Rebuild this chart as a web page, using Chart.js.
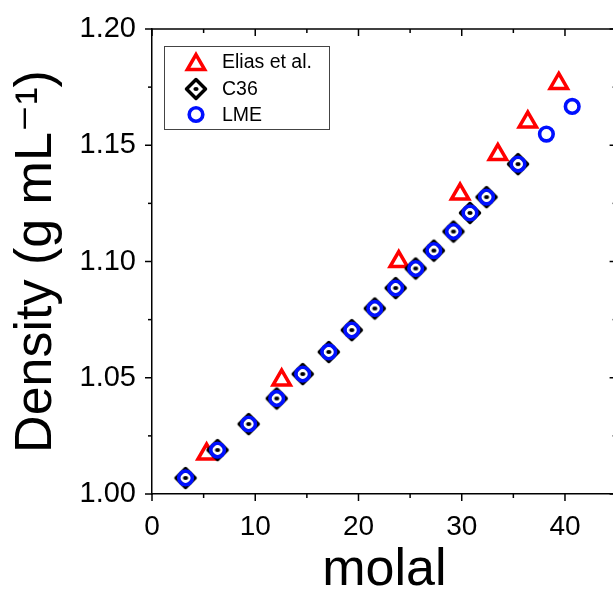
<!DOCTYPE html>
<html>
<head>
<meta charset="utf-8">
<script src="https://cdn.jsdelivr.net/npm/chart.js@4/dist/chart.umd.min.js"></script>
<style>
html,body{margin:0;padding:0;background:#fff;overflow:hidden;}
#wrap{position:absolute;left:0;top:0;width:620px;height:597px;}
#c{display:block;width:620px;height:597px;}
</style>
</head>
<body>
<div id="wrap"><canvas id="c" width="620" height="597"></canvas></div>
<script>
// ---- data ----
const eliasX = [5.29, 12.56, 23.9, 29.84, 33.5, 36.4, 39.4];
const eliasY = [1.0172, 1.049, 1.100, 1.129, 1.146, 1.160, 1.1766];

const c36X = [3.25, 6.35, 9.36, 12.08, 14.6, 17.12, 19.35, 21.58, 23.6, 25.54, 27.3, 29.2, 30.8, 32.4, 35.45];
const c36Y = [1.0069, 1.0189, 1.0301, 1.0411, 1.0516, 1.0611, 1.0705, 1.0798, 1.0886, 1.0970, 1.1047, 1.1129, 1.1209, 1.1277, 1.1419];

const lmeX = [3.25, 6.35, 9.36, 12.08, 14.6, 17.12, 19.35, 21.58, 23.6, 25.54, 27.3, 29.2, 30.8, 32.4, 35.45, 38.2, 40.7];
const lmeY = [1.0069, 1.0189, 1.0301, 1.0411, 1.0516, 1.0611, 1.0705, 1.0798, 1.0886, 1.0970, 1.1047, 1.1129, 1.1209, 1.1277, 1.1419, 1.1548, 1.1667];

const seriesNames = ['Elias et al.', 'C36', 'LME'];
const xTitle = 'molal';
const yTitle = 'Density (g mL\u207B\u00B9)';
const xMin = 0, xMax = 45, xStep = 5, xLabelEvery = 10;
const yMin = 1.00, yMax = 1.20, yStep = 0.025;

const FONT = "'Liberation Sans', Arial, 'DejaVu Sans', sans-serif";

function pts(xs, ys){ return xs.map((x,i)=>({x:x, y:ys[i]})); }

// diamond-with-dot symbol for C36
function makeDiamond(){
  const c = document.createElement('canvas');
  c.width = 28; c.height = 28;
  const g = c.getContext('2d');
  const cx = 14, cy = 14, r = 9.5;
  g.beginPath();
  g.moveTo(cx, cy - r); g.lineTo(cx + r, cy); g.lineTo(cx, cy + r); g.lineTo(cx - r, cy);
  g.closePath();
  g.fillStyle = '#fff'; g.fill();
  g.lineWidth = 3.5; g.strokeStyle = '#000'; g.lineJoin = 'round'; g.stroke();
  g.beginPath(); g.ellipse(cx, cy, 2.6, 2.1, 0, 0, Math.PI * 2);
  g.fillStyle = '#000'; g.fill();
  return c;
}
const diamondImg = makeDiamond();

const framePlugin = {
  id: 'frame',
  afterDraw(chart){
    const {ctx, chartArea: a, scales} = chart;
    const x = scales.x, y = scales.y;
    ctx.save();
    ctx.strokeStyle = '#000';
    ctx.lineWidth = 1.5;
    const line = (x1,y1,x2,y2)=>{ ctx.beginPath(); ctx.moveTo(x1,y1); ctx.lineTo(x2,y2); ctx.stroke(); };
    line(a.left, a.top, a.right, a.top);
    line(a.right, a.top, a.right, a.bottom);
    x.ticks.forEach(t=>{
      const px = x.getPixelForValue(t.value);
      const major = Math.abs(t.value % xLabelEvery) < 1e-6;
      const L = major ? 7 : 4;
      line(px, a.bottom, px, a.bottom + L);
      line(px, a.top, px, a.top + L);
    });
    y.ticks.forEach(t=>{
      const py = y.getPixelForValue(t.value);
      const major = Math.round(t.value * 1000) % 50 === 0;
      const L = major ? 7 : 4;
      line(a.left - L, py, a.left, py);
      line(a.right - L, py, a.right, py);
    });
    ctx.restore();
  }
};

const legendPlugin = {
  id: 'boxLegend',
  afterDatasetsDraw(chart){
    const ctx = chart.ctx;
    const bx = 164, by = 46, bw = 165, bh = 83;
    ctx.save();
    ctx.fillStyle = '#fff';
    ctx.fillRect(bx, by, bw, bh);
    ctx.strokeStyle = '#444'; ctx.lineWidth = 1;
    ctx.strokeRect(bx + 0.5, by + 0.5, bw, bh);
    const rows = [62, 89, 114.5];
    const symOff = [2.5, 0, 0];
    chart.data.datasets.forEach((ds, i)=>{
      const yy = rows[i];
      const opts = {
        pointStyle: ds.pointStyle,
        radius: ds.pointRadius,
        rotation: 0,
        borderWidth: ds.borderWidth
      };
      ctx.strokeStyle = ds.borderColor;
      ctx.fillStyle = ds.backgroundColor;
      ctx.lineWidth = ds.borderWidth;
      Chart.helpers.drawPoint(ctx, opts, 196, yy + symOff[i]);
      ctx.fillStyle = '#000';
      ctx.font = '19.5px ' + FONT;
      ctx.textBaseline = 'middle';
      ctx.textAlign = 'left';
      ctx.fillText(ds.label, 222, yy + 1);
    });
    ctx.restore();
  }
};

new Chart(document.getElementById('c'), {
  type: 'scatter',
  data: {
    datasets: [
      { label: seriesNames[0], data: pts(eliasX, eliasY), pointStyle: 'triangle', pointRadius: 10,
        borderColor: '#ff0000', backgroundColor: 'rgba(255,255,255,0)', borderWidth: 3.5, order: 3 },
      { label: seriesNames[1], data: pts(c36X, c36Y), pointStyle: diamondImg, pointRadius: 10,
        borderColor: '#000', backgroundColor: '#fff', borderWidth: 3.5, order: 2 },
      { label: seriesNames[2], data: pts(lmeX, lmeY), pointStyle: 'circle', pointRadius: 6.8,
        borderColor: '#0010ff', backgroundColor: 'rgba(255,255,255,0)', borderWidth: 3.6, order: 1 }
    ]
  },
  options: {
    responsive: false,
    animation: false,
    devicePixelRatio: 1,
    layout: { autoPadding: false, padding: { top: 29, right: 3.4, left: 0, bottom: 0 } },
    plugins: { legend: { display: false }, tooltip: { enabled: false } },
    elements: { point: { hoverRadius: 10 } },
    scales: {
      x: {
        type: 'linear', min: xMin, max: xMax,
        afterFit: s => { s.height = 103; s.paddingLeft = 0; s.paddingRight = 0; },
        ticks: {
          stepSize: xStep, autoSkip: false, maxRotation: 0, padding: 16,
          color: '#000', font: { family: FONT, size: 28 },
          callback: v => (Math.abs(v % xLabelEvery) < 1e-6 ? String(v) : '')
        },
        grid: { display: true, drawOnChartArea: false, drawTicks: false },
        border: { display: true, color: '#000', width: 1.5 },
        title: { display: true, text: xTitle, color: '#000',
          font: { family: FONT, size: 52, lineHeight: 1 }, padding: { top: 0, bottom: 0 } }
      },
      y: {
        type: 'linear', min: yMin, max: yMax,
        afterFit: s => { s.width = 152; s.paddingTop = 0; s.paddingBottom = 0; },
        ticks: {
          stepSize: yStep, autoSkip: false, padding: 16,
          color: '#000', font: { family: FONT, size: 29 },
          callback: v => (Math.round(v * 1000) % 50 === 0 ? v.toFixed(2) : '')
        },
        grid: { display: true, drawOnChartArea: false, drawTicks: false },
        border: { display: true, color: '#000', width: 1.5 },
        title: { display: true, text: yTitle, color: '#000',
          font: { family: FONT, size: 52, lineHeight: 1 }, padding: { top: 11, bottom: 0 } }
      }
    }
  },
  plugins: [framePlugin, legendPlugin]
});
</script>
</body>
</html>
